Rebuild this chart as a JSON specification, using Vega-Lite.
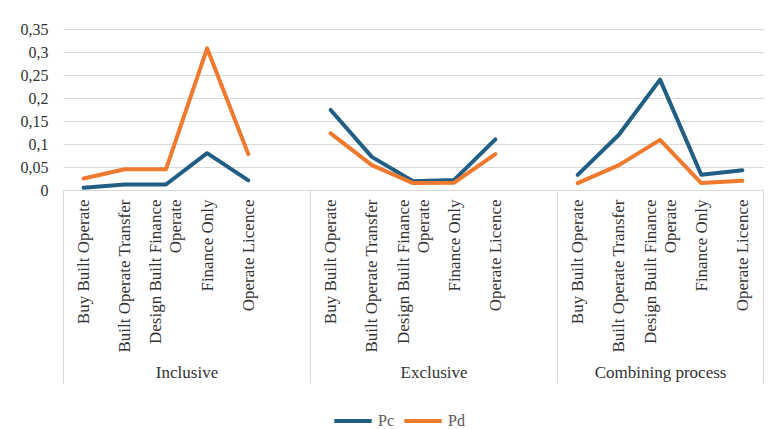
{
  "$schema": "https://vega.github.io/schema/vega-lite/v6.json",
  "width": 700,
  "height": 161,
  "autosize": {"type": "none"},
  "padding": {"left": 63, "top": 29, "right": 9, "bottom": 239},
  "config": {
    "view": {"stroke": null},
    "font": "'Times New Roman', 'Liberation Serif', 'DejaVu Serif', serif",
    "axis": {"labelFont": "'Times New Roman', 'Liberation Serif', 'DejaVu Serif', serif"},
    "legend": {"labelFont": "'Times New Roman', 'Liberation Serif', 'DejaVu Serif', serif"}
  },
  "layer": [
    {
      "data": {
        "values": [
          {"g": "Inclusive", "k": "I:Buy Built Operate", "s": "Pc", "v": 0.005},
          {"g": "Inclusive", "k": "I:Built Operate Transfer", "s": "Pc", "v": 0.012},
          {"g": "Inclusive", "k": "I:Design Built Finance Operate", "s": "Pc", "v": 0.012},
          {"g": "Inclusive", "k": "I:Finance Only", "s": "Pc", "v": 0.08},
          {"g": "Inclusive", "k": "I:Operate Licence", "s": "Pc", "v": 0.021},
          {"g": "Inclusive", "k": "I:Buy Built Operate", "s": "Pd", "v": 0.025},
          {"g": "Inclusive", "k": "I:Built Operate Transfer", "s": "Pd", "v": 0.045},
          {"g": "Inclusive", "k": "I:Design Built Finance Operate", "s": "Pd", "v": 0.045},
          {"g": "Inclusive", "k": "I:Finance Only", "s": "Pd", "v": 0.308},
          {"g": "Inclusive", "k": "I:Operate Licence", "s": "Pd", "v": 0.078},
          {"g": "Exclusive", "k": "E:Buy Built Operate", "s": "Pc", "v": 0.174},
          {"g": "Exclusive", "k": "E:Built Operate Transfer", "s": "Pc", "v": 0.072},
          {"g": "Exclusive", "k": "E:Design Built Finance Operate", "s": "Pc", "v": 0.019},
          {"g": "Exclusive", "k": "E:Finance Only", "s": "Pc", "v": 0.022},
          {"g": "Exclusive", "k": "E:Operate Licence", "s": "Pc", "v": 0.11},
          {"g": "Exclusive", "k": "E:Buy Built Operate", "s": "Pd", "v": 0.123},
          {"g": "Exclusive", "k": "E:Built Operate Transfer", "s": "Pd", "v": 0.054},
          {"g": "Exclusive", "k": "E:Design Built Finance Operate", "s": "Pd", "v": 0.015},
          {"g": "Exclusive", "k": "E:Finance Only", "s": "Pd", "v": 0.016},
          {"g": "Exclusive", "k": "E:Operate Licence", "s": "Pd", "v": 0.078},
          {"g": "Combining process", "k": "C:Buy Built Operate", "s": "Pc", "v": 0.033},
          {"g": "Combining process", "k": "C:Built Operate Transfer", "s": "Pc", "v": 0.12},
          {"g": "Combining process", "k": "C:Design Built Finance Operate", "s": "Pc", "v": 0.24},
          {"g": "Combining process", "k": "C:Finance Only", "s": "Pc", "v": 0.033},
          {"g": "Combining process", "k": "C:Operate Licence", "s": "Pc", "v": 0.043},
          {"g": "Combining process", "k": "C:Buy Built Operate", "s": "Pd", "v": 0.015},
          {"g": "Combining process", "k": "C:Built Operate Transfer", "s": "Pd", "v": 0.054},
          {"g": "Combining process", "k": "C:Design Built Finance Operate", "s": "Pd", "v": 0.109},
          {"g": "Combining process", "k": "C:Finance Only", "s": "Pd", "v": 0.015},
          {"g": "Combining process", "k": "C:Operate Licence", "s": "Pd", "v": 0.02}
        ]
      },
      "mark": {"type": "line", "strokeWidth": 4, "strokeCap": "round", "strokeJoin": "round"},
      "encoding": {
        "x": {
          "field": "k",
          "type": "ordinal",
          "scale": {
            "type": "point",
            "padding": 0.5,
            "domain": [
              "I:Buy Built Operate", "I:Built Operate Transfer", "I:Design Built Finance Operate", "I:Finance Only", "I:Operate Licence", "I:",
              "E:Buy Built Operate", "E:Built Operate Transfer", "E:Design Built Finance Operate", "E:Finance Only", "E:Operate Licence", "E:",
              "C:Buy Built Operate", "C:Built Operate Transfer", "C:Design Built Finance Operate", "C:Finance Only", "C:Operate Licence"
            ]
          },
          "axis": {
            "title": null,
            "orient": "bottom",
            "labelAngle": -90,
            "labelFontSize": 17,
            "labelColor": "#333333",
            "labelPadding": 9,
            "labelLineHeight": 20,
            "labelOffset": {"condition": {"test": "indexof(datum.value, 'Design') >= 0", "value": -10}, "value": 0},
            "ticks": false,
            "grid": false,
            "domainColor": "#d9d9d9",
            "labelExpr": "indexof(datum.value, 'Design') >= 0 ? ['Design Built Finance', 'Operate'] : slice(datum.value, 2)"
          }
        },
        "y": {
          "field": "v",
          "type": "quantitative",
          "scale": {"domain": [0, 0.35], "nice": false},
          "axis": {
            "title": null,
            "values": [0, 0.05, 0.1, 0.15, 0.2, 0.25, 0.3, 0.35],
            "labelExpr": "replace(datum.value + '', '.', ',')",
            "domain": false,
            "ticks": false,
            "labelPadding": 15,
            "labelFontSize": 16,
            "labelColor": "#333333",
            "grid": true,
            "gridColor": "#d9d9d9"
          }
        },
        "color": {
          "field": "s",
          "type": "nominal",
          "scale": {"domain": ["Pc", "Pd"], "range": ["#215E84", "#EF7A2E"]},
          "legend": {
            "title": null,
            "orient": "none",
            "direction": "horizontal",
            "legendX": 269,
            "legendY": 371,
            "symbolType": "stroke",
            "symbolSize": 1400,
            "symbolStrokeWidth": 4,
            "labelFontSize": 16,
            "labelColor": "#595959",
            "labelOffset": 4,
            "columnPadding": 2
          }
        },
        "detail": {"field": "g"}
      }
    },
    {
      "data": {"values": [{"p": 0}, {"p": 17}]},
      "mark": {"type": "point", "opacity": 0},
      "encoding": {
        "x": {
          "field": "p",
          "type": "quantitative",
          "scale": {"domain": [0, 17], "nice": false, "zero": false},
          "axis": {
            "orient": "bottom",
            "title": null,
            "values": [0, 6, 12, 17],
            "labels": false,
            "domain": false,
            "grid": false,
            "tickSize": 193,
            "tickColor": "#d9d9d9",
            "tickWidth": 1
          }
        }
      }
    },
    {
      "data": {"values": [{"p": 0}, {"p": 17}]},
      "mark": {"type": "point", "opacity": 0},
      "encoding": {
        "x": {
          "field": "p",
          "type": "quantitative",
          "scale": {"domain": [0, 17], "nice": false, "zero": false},
          "axis": {
            "orient": "bottom",
            "title": null,
            "values": [3, 9, 14.5],
            "labelExpr": "datum.value == 3 ? 'Inclusive' : datum.value == 9 ? 'Exclusive' : 'Combining process'",
            "ticks": false,
            "domain": false,
            "grid": false,
            "labelFlush": false,
            "labelPadding": 174,
            "labelFontSize": 17,
            "labelColor": "#333333"
          }
        }
      }
    }
  ],
  "resolve": {"scale": {"x": "independent"}}
}
